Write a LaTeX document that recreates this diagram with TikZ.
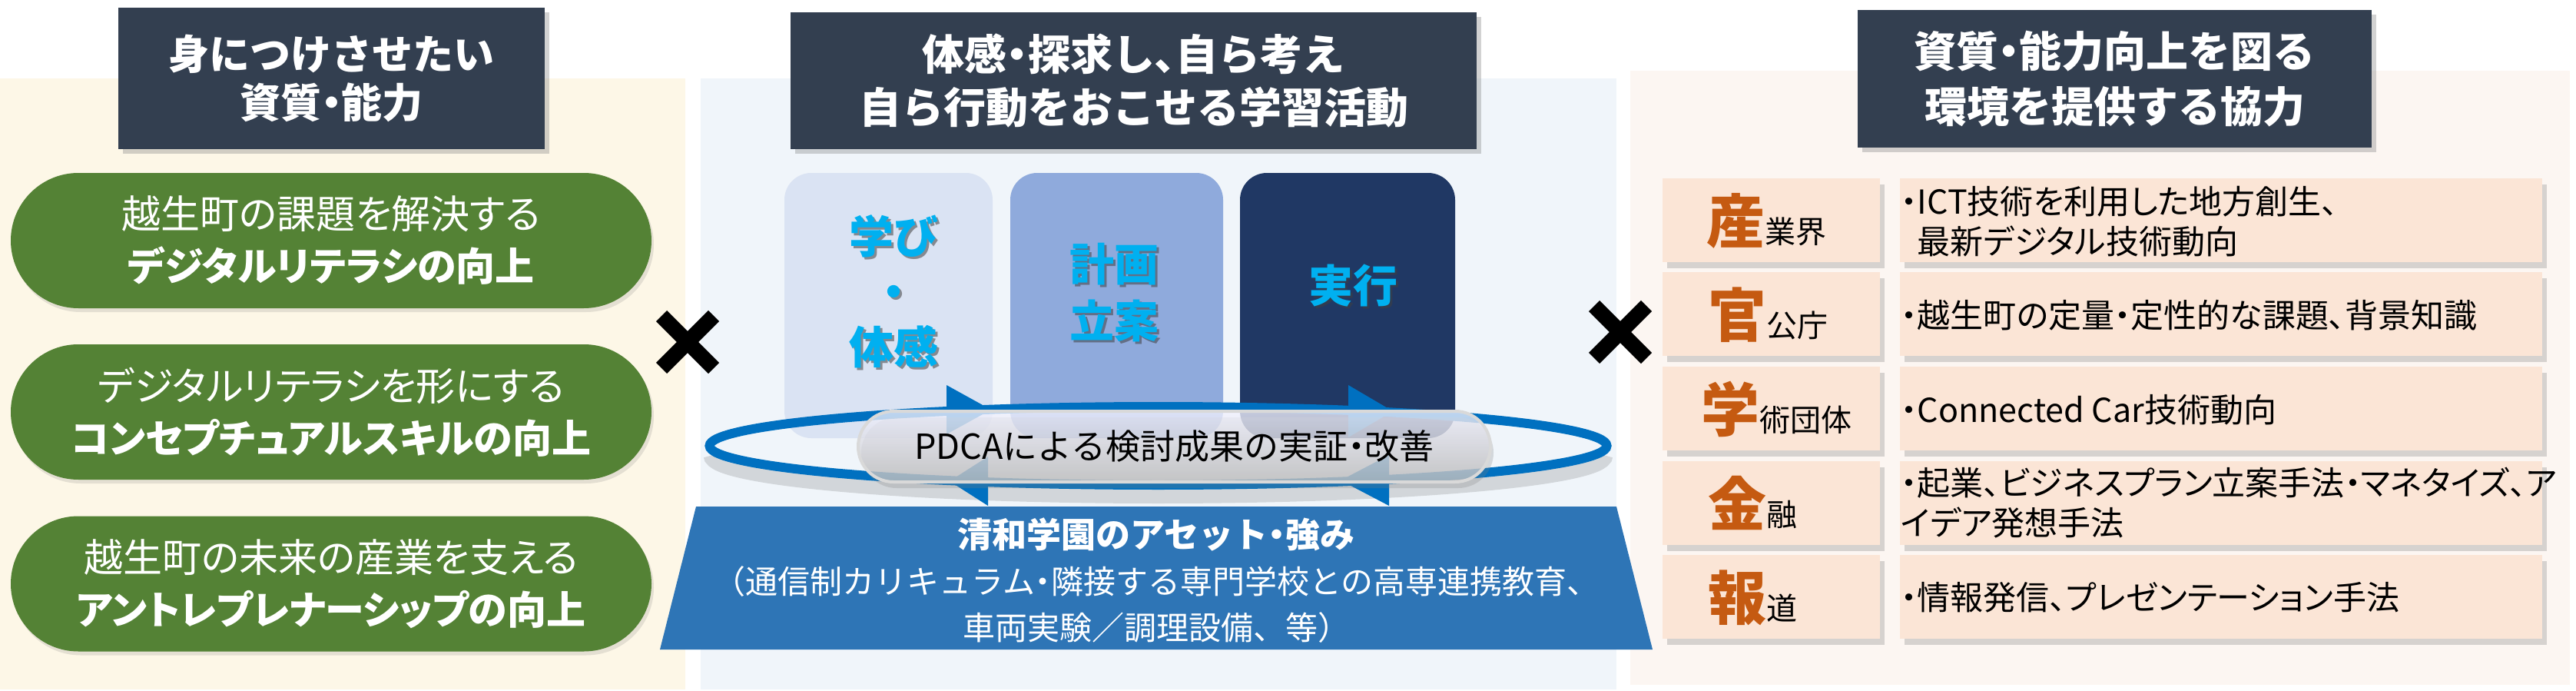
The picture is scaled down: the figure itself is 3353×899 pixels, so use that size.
\documentclass[tikz,border=0pt]{standalone}
\usepackage{fontspec}
\setmainfont{Noto Sans CJK JP}
\newfontfamily\jpp{Noto Sans CJK JP}[RawFeature=+palt]
\usetikzlibrary{shadows,shapes.geometric}
\newcommand{\setfs}[2]{\fontsize{#1}{#2}\selectfont}
\newcommand{\bigk}[1]{{\setfs{38pt}{38pt}\bfseries\color{rust}#1}}
\newcommand{\smallk}[1]{{\setfs{20pt}{20pt}#1}}
\newcommand{\nkg}{{\jpp ・}}
\newcommand{\tten}{{\jpp 、}}
\definecolor{creambg}{HTML}{FDF7E7}
\definecolor{bluebg}{HTML}{F0F5FA}
\definecolor{peachbg}{HTML}{FCF6F2}
\definecolor{slate}{HTML}{333F50}
\definecolor{leaf}{HTML}{548235}
\definecolor{rowfill}{HTML}{FBE5D6}
\definecolor{rust}{HTML}{C55A11}
\definecolor{paleblue}{HTML}{DAE3F3}
\definecolor{midblue}{HTML}{8FAADC}
\definecolor{navy}{HTML}{203864}
\definecolor{cyantext}{HTML}{00B0F0}
\definecolor{ringblue}{HTML}{0070C0}
\definecolor{assetblue}{HTML}{2E75B6}
\begin{document}
\begin{tikzpicture}[x=0.5pt,y=-0.5pt,
  header/.style={fill=slate,text=white,align=center,inner sep=0pt,
    drop shadow={opacity=0.35,shadow xshift=3pt,shadow yshift=-3pt}},
  greenpill/.style={fill=leaf,text=white,align=center,rounded corners=44pt,
    minimum width=417pt,minimum height=88pt,inner sep=0pt,
    font=\jpp\setfs{25.5pt}{34pt},
    drop shadow={opacity=0.2,shadow xshift=1.5pt,shadow yshift=-2.5pt}},
  stagebox/.style={rounded corners=17.5pt,minimum width=#1,minimum height=172.5pt,inner sep=0pt},
  stagetext/.style={text=cyantext,align=center,inner sep=0pt,font=\setfs{29pt}{36pt}\bfseries},
  stageshadow/.style={text=black!75,text opacity=0.55,align=center,inner sep=0pt,font=\setfs{29pt}{36pt}\bfseries},
  xmark/.style={line width=10pt,black},
  rowbox/.style={fill=rowfill,minimum height=54.5pt,inner sep=0pt,
    drop shadow={opacity=0.3,shadow xshift=3pt,shadow yshift=-4pt}},
  labtext/.style={anchor=base west,inner sep=0pt},
  content/.style={anchor=west,align=left,inner sep=0pt,font=\jpp\setfs{21.5pt}{26pt}},
  pdcapill/.style={rounded corners=23pt,minimum width=411.5pt,minimum height=46pt,inner sep=0pt,
    draw=gray!30,line width=2pt,top color=white!95!blue,middle color=gray!12,bottom color=gray!50,
    fill opacity=0.78,text opacity=1,font=\setfs{22.5pt}{22.5pt},
    drop shadow={opacity=0.25,shadow xshift=2pt,shadow yshift=-4pt}}
]
\useasboundingbox (0,0) rectangle (3353,899);
\fill[white] (0,0) rectangle (3353,899);
% background panels
\fill[creambg] (0,102) rectangle (892,897);
\fill[bluebg] (912,102) rectangle (2104,897);
\fill[peachbg] (2122,92) rectangle (3345,891);

% headers
\node[header,minimum width=277.5pt,minimum height=92pt,font=\setfs{26.5pt}{31.5pt}\bfseries] (h1) at (431.5,102) {身につけさせたい\\資質\nkg 能力};
\node[header,minimum width=446.5pt,minimum height=89pt,font=\setfs{27.5pt}{34.5pt}\bfseries] (h2) at (1475.5,105) {体感\nkg 探求し\tten 自ら考え\\自ら行動をおこせる学習活動};
\node[header,minimum width=334.5pt,minimum height=89.5pt,font=\setfs{27.5pt}{36pt}\bfseries] (h3) at (2752.5,102.5) {資質\nkg 能力向上を図る\\環境を提供する協力};

% left green pills
\node[greenpill] (p1) at (431,313) {越生町の課題を解決する\\\textbf{デジタルリテラシの向上}};
\node[greenpill] (p2) at (431,536) {デジタルリテラシを形にする\\\textbf{コンセプチュアルスキルの向上}};
\node[greenpill] (p3) at (431,759.5) {越生町の未来の産業を支える\\\textbf{アントレプレナーシップの向上}};

% cross marks
\coordinate (crossL) at (895,445);
\coordinate (crossR) at (2109,432);
\draw[xmark] ([shift={(-34,-34)}]crossL) -- ([shift={(34,34)}]crossL);
\draw[xmark] ([shift={(-34,34)}]crossL) -- ([shift={(34,-34)}]crossL);
\draw[xmark] ([shift={(-34,-34)}]crossR) -- ([shift={(34,34)}]crossR);
\draw[xmark] ([shift={(-34,34)}]crossR) -- ([shift={(34,-34)}]crossR);

% asset trapezoid
\fill[assetblue] (906,659) -- (2104,659) -- (2151,845) -- (859,845) -- cycle;
\node[text=white,align=center,inner sep=0pt,font=\setfs{21pt}{30pt}] (asset) at (1505,755)
  {{\setfs{22.5pt}{30pt}\bfseries 清和学園のアセット\nkg 強み}\\（通信制カリキュラム\nkg 隣接する専門学校との高専連携教育、\\車両実験／調理設備、等）};

% stage boxes
\node[stagebox=135.5pt,fill=paleblue] (b1) at (1156.5,397.5) {};
\node[stagebox=138.5pt,fill=midblue] (b2) at (1453.5,397.5) {};
\node[stagebox=140pt,fill=navy] (b3) at (1754,397.5) {};
\node[stageshadow] at (1166,382) {学び\\・\\体感};
\node[stagetext] (t1) at (1163,379) {学び\\・\\体感};
\node[stageshadow,font=\setfs{29pt}{37pt}\bfseries] at (1453,384) {計画\\立案};
\node[stagetext,font=\setfs{29pt}{37pt}\bfseries] (t2) at (1450,381) {計画\\立案};
\node[stageshadow] at (1764,375) {実行};
\node[stagetext] (t3) at (1761,372) {実行};

% PDCA ring
\node[ellipse,minimum width=584pt,minimum height=51pt,inner sep=0pt] (ring) at (1507.5,580) {};
\draw[black!70,opacity=0.18,line width=12pt] ([shift={(-580,12)}]ring.center) arc[start angle=180,end angle=360,x radius=290pt,y radius=25.5pt];
\draw[ringblue,line width=6pt] (ring.center) ellipse [x radius=292pt,y radius=25.5pt];
\fill[ringblue] (1232,501) -- (1290,533) -- (1232,565) -- cycle;
\fill[ringblue] (1755,501) -- (1813,535) -- (1755,569) -- cycle;
\fill[ringblue] (1286,658) -- (1236,626) -- (1286,594) -- cycle;
\fill[ringblue] (1808,658) -- (1745,625) -- (1808,592) -- cycle;
\node[pdcapill] (pdca) at (1528.5,581) {PDCAによる検討成果の実証\nkg 改善};

% right rows
\node[rowbox,minimum width=141.5pt] (l1) at (2305.5,286.5) {};
\node[rowbox,minimum width=418pt] (c1) at (2891,286.5) {};
\node[rowbox,minimum width=141.5pt] (l2) at (2305.5,408.5) {};
\node[rowbox,minimum width=418pt] (c2) at (2891,408.5) {};
\node[rowbox,minimum width=141.5pt] (l3) at (2305.5,531) {};
\node[rowbox,minimum width=418pt] (c3) at (2891,531) {};
\node[rowbox,minimum width=141.5pt] (l4) at (2305.5,654) {};
\node[rowbox,minimum width=418pt] (c4) at (2891,654) {};
\node[rowbox,minimum width=141.5pt] (l5) at (2305.5,776) {};
\node[rowbox,minimum width=418pt] (c5) at (2891,776) {};

\node[labtext] (lt1) at (2221,316.5) {\bigk{産}\smallk{業界}};
\node[labtext] (lt2) at (2223,438.5) {\bigk{官}\smallk{公庁}};
\node[labtext] (lt3) at (2214,561) {\bigk{学}\smallk{術団体}};
\node[labtext] (lt4) at (2223,684) {\bigk{金}\smallk{融}};
\node[labtext] (lt5) at (2223,806) {\bigk{報}\smallk{道}};

\node[content] (ct1) at (2474,288) {・ICT技術を利用した地方創生、\\\phantom{・}最新デジタル技術動向};
\node[content] (ct2) at (2474,410) {・越生町の定量・定性的な課題、背景知識};
\node[content] (ct3) at (2474,533) {・Connected Car技術動向};
\node[content] (ct4) at (2474,654) {・起業、ビジネスプラン立案手法・マネタイズ、ア\\イデア発想手法};
\node[content] (ct5) at (2474,777) {・情報発信、プレゼンテーション手法};
\end{tikzpicture}
\end{document}
